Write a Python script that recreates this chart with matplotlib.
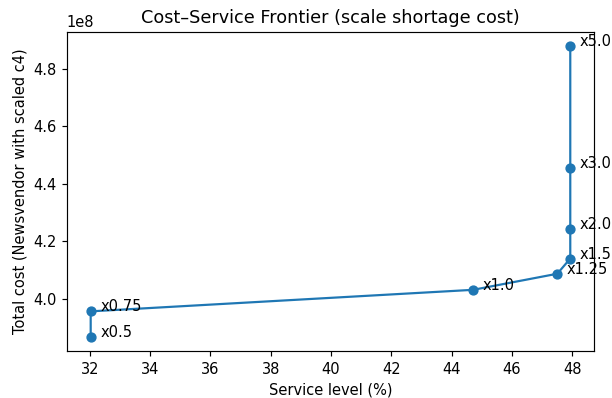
import matplotlib
matplotlib.use("Agg")
import matplotlib.pyplot as plt

scales = [0.5, 0.75, 1.0, 1.25, 1.5, 2.0, 3.0, 5.0]
service = [32.03, 32.03, 44.71, 47.50, 47.93, 47.93, 47.93, 47.93]
cost = [3.867e8, 3.956e8, 4.031e8, 4.087e8, 4.140e8, 4.244e8, 4.456e8, 4.879e8]

# reference looks rendered at a bit higher dpi than 100
dpi = 105.5
fig = plt.figure(figsize=(612 / dpi, 398 / dpi), dpi=dpi)
plt.subplots_adjust(left=0.109, right=0.971, top=0.920, bottom=0.117)
plt.plot(service, cost, marker="o")
for s, x, y in zip(scales, service, cost):
    plt.annotate(f"x{s}", (x, y), textcoords="offset points", xytext=(6.5, 0))
plt.xlabel("Service level (%)")
plt.ylabel("Total cost (Newsvendor with scaled c4)")
plt.title("Cost\u2013Service Frontier (scale shortage cost)")
plt.savefig("out.png", dpi=dpi)
